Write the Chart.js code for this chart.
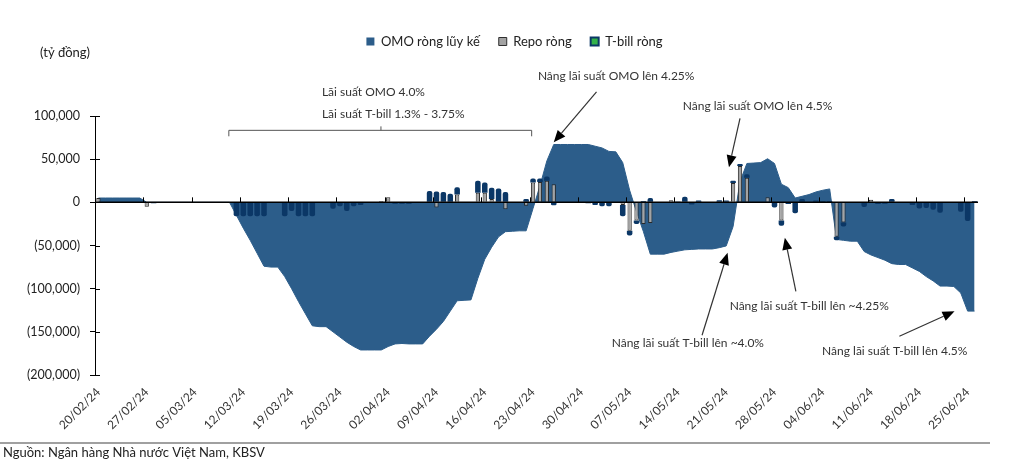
<!DOCTYPE html>
<html>
<head>
<meta charset="utf-8">
<script src="https://cdn.jsdelivr.net/npm/chart.js@4.4.1/dist/chart.umd.min.js"></script>
<style>
  html, body { margin: 0; padding: 0; background: #fff; }
  #khung { position: relative; width: 1029px; height: 469px; }
</style>
</head>
<body>
<div id="khung"><canvas id="myChart"></canvas></div>
<script>
// Du lieu theo ngay (moi dong = 1 tuan, bat dau tu thu Ba)
const ngay = [
  '20/02/24','21/02/24','22/02/24','23/02/24','24/02/24','25/02/24','26/02/24',
  '27/02/24','28/02/24','29/02/24','01/03/24','02/03/24','03/03/24','04/03/24',
  '05/03/24','06/03/24','07/03/24','08/03/24','09/03/24','10/03/24','11/03/24',
  '12/03/24','13/03/24','14/03/24','15/03/24','16/03/24','17/03/24','18/03/24',
  '19/03/24','20/03/24','21/03/24','22/03/24','23/03/24','24/03/24','25/03/24',
  '26/03/24','27/03/24','28/03/24','29/03/24','30/03/24','31/03/24','01/04/24',
  '02/04/24','03/04/24','04/04/24','05/04/24','06/04/24','07/04/24','08/04/24',
  '09/04/24','10/04/24','11/04/24','12/04/24','13/04/24','14/04/24','15/04/24',
  '16/04/24','17/04/24','18/04/24','19/04/24','20/04/24','21/04/24','22/04/24',
  '23/04/24','24/04/24','25/04/24','26/04/24','27/04/24','28/04/24','29/04/24',
  '30/04/24','01/05/24','02/05/24','03/05/24','04/05/24','05/05/24','06/05/24',
  '07/05/24','08/05/24','09/05/24','10/05/24','11/05/24','12/05/24','13/05/24',
  '14/05/24','15/05/24','16/05/24','17/05/24','18/05/24','19/05/24','20/05/24',
  '21/05/24','22/05/24','23/05/24','24/05/24','25/05/24','26/05/24','27/05/24',
  '28/05/24','29/05/24','30/05/24','31/05/24','01/06/24','02/06/24','03/06/24',
  '04/06/24','05/06/24','06/06/24','07/06/24','08/06/24','09/06/24','10/06/24',
  '11/06/24','12/06/24','13/06/24','14/06/24','15/06/24','16/06/24','17/06/24',
  '18/06/24','19/06/24','20/06/24','21/06/24','22/06/24','23/06/24','24/06/24',
  '25/06/24','26/06/24'
];

const nhanTruc = ['20/02/24','27/02/24','05/03/24','12/03/24','19/03/24','26/03/24','02/04/24',
  '09/04/24','16/04/24','23/04/24','30/04/24','07/05/24','14/05/24','21/05/24','28/05/24',
  '04/06/24','11/06/24','18/06/24','25/06/24'];

const omoLuyKe = [
  5000, 5000, 5000, 5000, 5000, 5000, 5000,
  0, 0, 0, 0, 0, 0, 0,
  0, 0, 0, 0, 0, 0, -15000,
  -30000, -44000, -59000, -74000, -75000, -75000, -86000,
  -100000, -115000, -129000, -143000, -144000, -144000, -150000,
  -156000, -162000, -167000, -171000, -171000, -171000, -171000,
  -167000, -164000, -163500, -164000, -164000, -164000, -155000,
  -147000, -138000, -126000, -114000, -113500, -113000, -88000,
  -66000, -52000, -40000, -34000, -33500, -33000, -33000,
  -7000, 19000, 48000, 67000, 67000, 67000, 67000,
  67000, 67000, 65000, 63000, 59000, 58500, 46000,
  14000, -11000, -34000, -60000, -60000, -60000, -58000,
  -56500, -55000, -54500, -54000, -54000, -54000, -52500,
  -50500, -28000, 24000, 45000, 45500, 46000, 50500,
  45000, 21000, 17000, 5000, 7000, 9000, 12000,
  14000, 15500, -43000, -44000, -45000, -45000, -57000,
  -61000, -64000, -67000, -71000, -72000, -72000, -76000,
  -80000, -86000, -91000, -97000, -97000, -97500, -105000,
  -126000, -126000
];

const repoRong = [
  5000, null, null, null, null, null, null,
  -5000, null, null, null, null, null, null,
  null, null, null, null, null, null, null,
  null, null, null, null, null, null, null,
  null, null, null, null, null, null, null,
  null, null, null, null, null, null, 1500,
  6000, null, null, null, null, null, null,
  -6000, null, null, 9000, null, null, 11000,
  11000, 4000, null, -8000, null, null, -4000,
  23000, 23500, 25000, 21000, null, null, null,
  null, null, null, null, null, null, -3000,
  -33000, -21000, -25000, -24000, null, null, 2500,
  null, null, null, null, null, null, null,
  null, 22500, 42000, 28500, null, null, 6000,
  null, -21000, null, null, null, null, null,
  null, null, -40000, -23500, null, null, null,
  3000, null, null, null, null, null, null,
  null, null, null, null, null, null, null,
  null, null
];

const tbillRong = [
  null, null, null, null, null, null, null,
  null, -1000, null, null, null, null, null,
  null, null, null, null, null, null, -16000,
  -16000, -16000, -16000, -16000, null, null, -16000,
  -10000, -16000, -16000, -16000, null, null, -7500,
  -4500, -10000, -4500, -3000, null, null, null,
  null, -1500, -1500, -1500, null, null, 13000,
  12500, 12000, 10000, 8500, null, null, 14000,
  12000, 13000, 16000, 12000, null, null, 4000,
  4500, 4000, 5000, -3500, null, null, null,
  null, -1000, -3000, -4500, -4500, null, -13000,
  -5500, -4000, 1500, 5000, null, null, null,
  1000, 6500, -2500, 2000, null, null, 2500,
  2000, 2500, 2500, 4000, null, null, null,
  -6000, -6000, -2000, -12500, 4000, null, 2000,
  1500, 1500, -4000, -4500, null, null, -5500,
  null, -2000, -1500, 4000, null, null, -3000,
  -7000, -6500, -8500, -12000, null, null, -11000,
  -21500, 1500
];

const MAU_OMO = '#2c5d8a';
const MAU_REPO = '#a3a3a3';
const MAU_TBILL = '#0b3766';

Chart.defaults.font.family = 'Lato, "Noto Sans", sans-serif';
Chart.defaults.color = '#333';

const dinhDang = v => v === 0 ? '0'
  : (v < 0 ? '(' + (-v).toLocaleString('en-US') + ')' : v.toLocaleString('en-US'));

// ghi chu: vi tri theo chi so ngay va gia tri truc tung
const ghiChu = [
  { text: 'Lãi suất OMO 4.0%', d: 32.4, v: 127400 },
  { text: 'Lãi suất T-bill 1.3% - 3.75%', d: 32.4, v: 101900 },
  { text: 'Nâng lãi suất OMO lên 4.25%', d: 63.7, v: 146000 },
  { text: 'Nâng lãi suất OMO lên 4.5%', d: 84.7, v: 111000 },
  { text: 'Nâng lãi suất T-bill lên ~4.0%', d: 74.4, v: -163300 },
  { text: 'Nâng lãi suất T-bill lên ~4.25%', d: 91.5, v: -120500 },
  { text: 'Nâng lãi suất T-bill lên 4.5%', d: 104.9, v: -172600 }
];
const muiTen = [
  { tu: [72.2, 128000], den: [66.0, 69500] },
  { tu: [93.0, 97300], den: [91.4, 40500] },
  { tu: [87.5, -154000], den: [91.2, -58500] },
  { tu: [101.1, -103000], den: [99.5, -40900] },
  { tu: [116.1, -155200], den: [124.1, -126300] }
];

function veMuiTen(ctx, x1, y1, x2, y2) {
  const g = Math.atan2(y2 - y1, x2 - x1), L = 12, W = 5;
  const bx = x2 - L * Math.cos(g), by = y2 - L * Math.sin(g);
  ctx.beginPath(); ctx.moveTo(x1, y1); ctx.lineTo(bx, by); ctx.stroke();
  ctx.beginPath();
  ctx.moveTo(x2, y2);
  ctx.lineTo(bx + W * Math.sin(g), by - W * Math.cos(g));
  ctx.lineTo(bx - W * Math.sin(g), by + W * Math.cos(g));
  ctx.closePath(); ctx.fill();
}

const veThem = {
  id: 'veThem',
  beforeInit(chart) {
    const fitGoc = chart.legend.fit;
    chart.legend.fit = function () { fitGoc.call(this); this.height = 100; };
  },
  afterLayout(chart) {
    const lg = chart.legend;
    const dx = chart.width / 2 - (lg.left + lg.right) / 2;
    lg.left += dx; lg.right += dx;
  },
  afterDraw(chart) {
    const { ctx, chartArea: a, scales: { x, y } } = chart;
    const y0 = y.getPixelForValue(0);
    ctx.save();
    // truc 0
    ctx.strokeStyle = '#000';
    ctx.lineWidth = 1.5;
    ctx.beginPath(); ctx.moveTo(a.left, y0); ctx.lineTo(a.right, y0); ctx.stroke();
    ctx.lineWidth = 1;
    ngay.forEach((d, i) => {
      if (i > 0 && nhanTruc.includes(d)) {
        const px = Math.round(x.getPixelForValue(i - 0.5)) + 0.5;
        ctx.beginPath(); ctx.moveTo(px, y0); ctx.lineTo(px, y0 - 5); ctx.stroke();
      }
    });
    y.ticks.forEach(t => {
      const py = Math.round(y.getPixelForValue(t.value)) + 0.5;
      ctx.beginPath(); ctx.moveTo(a.left, py); ctx.lineTo(a.left + 5, py); ctx.stroke();
    });

    // ngoac
    const bY = y.getPixelForValue(83400), bY2 = y.getPixelForValue(76500), bY3 = y.getPixelForValue(88000);
    const bL = x.getPixelForValue(18.9), bR = x.getPixelForValue(62.8), bM = x.getPixelForValue(40.95);
    ctx.strokeStyle = '#555';
    ctx.beginPath();
    ctx.moveTo(bL, bY2); ctx.lineTo(bL, bY); ctx.lineTo(bR, bY); ctx.lineTo(bR, bY2);
    ctx.moveTo(bM, bY); ctx.lineTo(bM, bY3);
    ctx.stroke();

    // chu thich
    ctx.fillStyle = '#333';
    ctx.font = '12px Lato, "Noto Sans", sans-serif';
    ctx.textAlign = 'left';
    ctx.textBaseline = 'middle';
    ghiChu.forEach(g => ctx.fillText(g.text, x.getPixelForValue(g.d), y.getPixelForValue(g.v)));

    ctx.strokeStyle = '#333';
    ctx.fillStyle = '#000';
    ctx.lineWidth = 1.2;
    muiTen.forEach(m => veMuiTen(ctx,
      x.getPixelForValue(m.tu[0]), y.getPixelForValue(m.tu[1]),
      x.getPixelForValue(m.den[0]), y.getPixelForValue(m.den[1])));

    // don vi, nguon
    ctx.fillStyle = '#222';
    ctx.font = '13px Lato, "Noto Sans", sans-serif';
    ctx.fillText('(tỷ đồng)', a.left - 55, a.top - 63);
    ctx.strokeStyle = '#808080';
    ctx.lineWidth = 1.5;
    ctx.beginPath(); ctx.moveTo(0, chart.height - 26); ctx.lineTo(a.right + 12, chart.height - 26); ctx.stroke();
    ctx.fillText('Nguồn: Ngân hàng Nhà nước Việt Nam, KBSV', 3, chart.height - 16);
    ctx.restore();
  }
};

const ctx = document.getElementById('myChart');
new Chart(ctx, {
  type: 'bar',
  data: {
    labels: ngay,
    datasets: [
      {
        type: 'line',
        label: 'OMO ròng lũy kế',
        data: omoLuyKe,
        stack: 'omo',
        order: 3,
        fill: 'origin',
        backgroundColor: MAU_OMO,
        borderColor: MAU_OMO,
        borderWidth: 1,
        pointRadius: 0,
        tension: 0
      },
      {
        label: 'Repo ròng',
        data: repoRong,
        stack: 'rong',
        order: 1,
        backgroundColor: MAU_REPO,
        borderColor: '#2a2a2a',
        borderWidth: 1,
        barPercentage: 0.62,
        categoryPercentage: 1
      },
      {
        label: 'T-bill ròng',
        data: tbillRong,
        stack: 'rong',
        order: 2,
        backgroundColor: MAU_TBILL,
        borderWidth: 0,
        borderRadius: 2,
        barPercentage: 0.8,
        categoryPercentage: 1
      }
    ]
  },
  options: {
    responsive: true,
    maintainAspectRatio: false,
    animation: false,
    layout: { padding: { left: 0, right: 51, top: 16, bottom: 34 } },
    plugins: {
      tooltip: { enabled: false },
      legend: {
        position: 'top',
        labels: {
          boxWidth: 8,
          boxHeight: 8,
          padding: 19,
          color: '#222',
          font: { size: 13 },
          sort: (a, b) => a.datasetIndex - b.datasetIndex,
          generateLabels(chart) {
            const items = Chart.defaults.plugins.legend.labels.generateLabels(chart);
            const mau = [
              { fill: MAU_OMO, stroke: MAU_OMO, w: 0 },
              { fill: MAU_REPO, stroke: '#2f2f2f', w: 1 },
              { fill: '#33b24a', stroke: MAU_TBILL, w: 2 }
            ];
            items.forEach(it => {
              const m = mau[it.datasetIndex];
              it.fillStyle = m.fill; it.strokeStyle = m.stroke; it.lineWidth = m.w;
            });
            return items;
          }
        }
      }
    },
    scales: {
      x: {
        stacked: true,
        offset: true,
        grid: { display: false, drawTicks: false, offset: true },
        border: { display: false },
        ticks: {
          autoSkip: false,
          maxRotation: 45,
          minRotation: 45,
          padding: 10,
          color: '#333',
          font: { size: 12 },
          callback(v, i) { return nhanTruc.includes(ngay[i]) ? ngay[i] : null; }
        },
        afterFit(s) { s.height = 60; }
      },
      y: {
        stacked: true,
        min: -200000,
        max: 100000,
        ticks: { stepSize: 50000, color: '#222', font: { size: 12.5 }, padding: 10, callback: v => dinhDang(v) },
        grid: { drawOnChartArea: false, color: '#000', tickLength: 5 },
        border: { display: true, color: '#000', width: 1 },
        afterFit(s) { s.width = 95; }
      }
    }
  },
  plugins: [veThem]
});
</script>
</body>
</html>
